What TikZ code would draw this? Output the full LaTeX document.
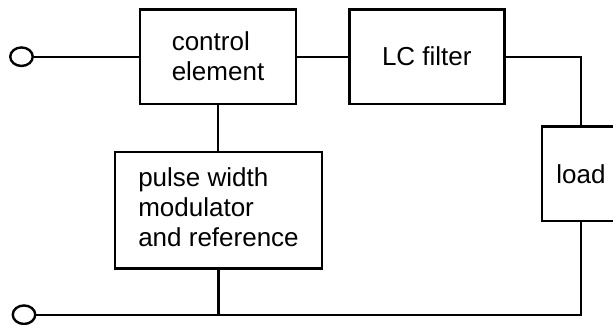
\documentclass[tikz,border=0pt]{standalone}
\usepackage{fontspec}
\setmainfont{Liberation Sans}
\usetikzlibrary{shapes.geometric}
\begin{document}
\begin{tikzpicture}[x=1pt,y=-1pt,line width=2.4pt,
  blk/.style={draw,rectangle,inner sep=0pt,align=left,
    font=\fontsize{26}{30}\selectfont},
  term/.style={draw,ellipse,inner sep=0pt,minimum width=22.5pt,minimum height=18.5pt}]
\useasboundingbox (0,0) rectangle (613,324);
\node[blk,minimum width=156pt,minimum height=94.7pt] (ctrl) at (218,56.7) {control\\element};
\node[blk,minimum width=155pt,minimum height=94.7pt] (lc) at (426.8,56.7) {LC filter};
\node[blk,minimum width=78.6pt,minimum height=94.3pt] (load) at (581,173.8) {load};
\node[blk,minimum width=207pt,minimum height=116.6pt] (pwm) at (218.5,210) {\raisebox{5pt}{\begin{tabular}{@{}l@{}}pulse width\\modulator\\and reference\end{tabular}}};
\node[term] (t1) at (21.5,56.7) {};
\node[term] (t2) at (24,314.7) {};
\draw (t1.east) -- (ctrl.west);
\draw (ctrl.east) -- (lc.west);
\draw (lc.east) -| (load.north);
\draw (ctrl.south) -- (ctrl.south |- pwm.north);
\draw (t2.east) -| (load.south);
\draw (pwm.south) -- (pwm.south |- t2.east);
\end{tikzpicture}
\end{document}
